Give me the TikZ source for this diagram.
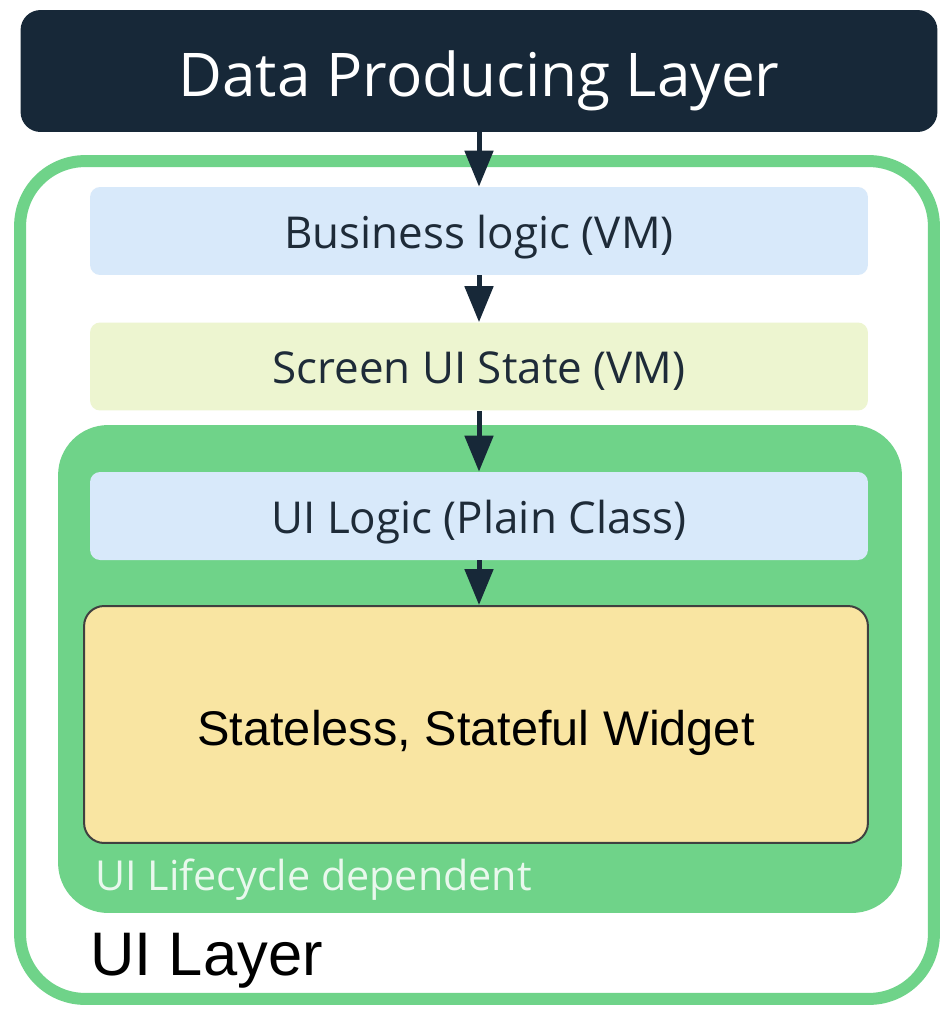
\documentclass[tikz,border=0pt]{standalone}
\usepackage{fontspec}
\setmainfont{Open Sans}
\newfontfamily\robo{Liberation Sans}
\usetikzlibrary{arrows.meta}
\definecolor{navy}{HTML}{172838}
\definecolor{leaf}{HTML}{6FD389}
\definecolor{skyb}{HTML}{D8E9FA}
\definecolor{lime}{HTML}{EDF5D0}
\definecolor{sand}{HTML}{F9E5A2}
\definecolor{ink}{HTML}{1E2B38}

\begin{document}
\begin{tikzpicture}[x=0.02cm,y=-0.02cm,
    layerbox/.style={rounded corners=0.2cm, minimum width=15.56cm, minimum height=1.76cm, text=ink, text height=0.68cm, text depth=0cm, font=\fontsize{25}{29}\selectfont},
    flow/.style={draw=navy, line width=0.1cm, -{Triangle[length=0.72cm,width=0.56cm]}}]
    \useasboundingbox (0,0) rectangle (952,1018);
    \fill[white] (0,0) rectangle (952,1018);
    \node[fill=navy, rounded corners=0.4cm, minimum width=18.34cm, minimum height=2.44cm, text=white, text height=1.04cm, text depth=0cm, font=\fontsize{34.3}{38}\selectfont] (data) at (479,71) {Data Producing Layer};
    \node[draw=leaf, line width=0.24cm, rounded corners=1.3cm, minimum width=18.28cm, minimum height=16.76cm] (uilayer) at (477,580) {};
    \node[layerbox, fill=skyb] (business) at (479,231) {Business logic (VM)};
    \node[layerbox, fill=lime] (screen) at (479,366.5) {Screen UI State (VM)};
    \node[fill=leaf, rounded corners=1cm, minimum width=16.88cm, minimum height=9.76cm] (lifecycle) at (480,669) {};
    \node[layerbox, fill=skyb] (uilogic) at (479,516) {UI Logic (Plain Class)};
    \node[draw=black!75, line width=0.04cm, fill=sand, rounded corners=0.4cm, minimum width=15.68cm, minimum height=4.74cm, text height=0.82cm, text depth=0cm, font=\robo\fontsize{27.7}{31}\selectfont] (widget) at (476,724.5) {Stateless, Stateful Widget};
    \node[anchor=base west, inner sep=0, text=white!85!leaf, font=\fontsize{23.5}{27}\selectfont] (lifelabel) at (95,890) {UI Lifecycle dependent};
    \node[anchor=base west, inner sep=0, font=\robo\fontsize{35}{39}\selectfont] (uilabel) at (90,975) {UI Layer};
    % flow down the layers
    \draw[flow] (data.south) -- (business.north);
    \draw[flow] (business.south) -- (screen.north);
    \draw[flow] (screen.south) -- (uilogic.north);
    \draw[flow] (uilogic.south) -- (widget.north -| uilogic.south);
\end{tikzpicture}
\end{document}
